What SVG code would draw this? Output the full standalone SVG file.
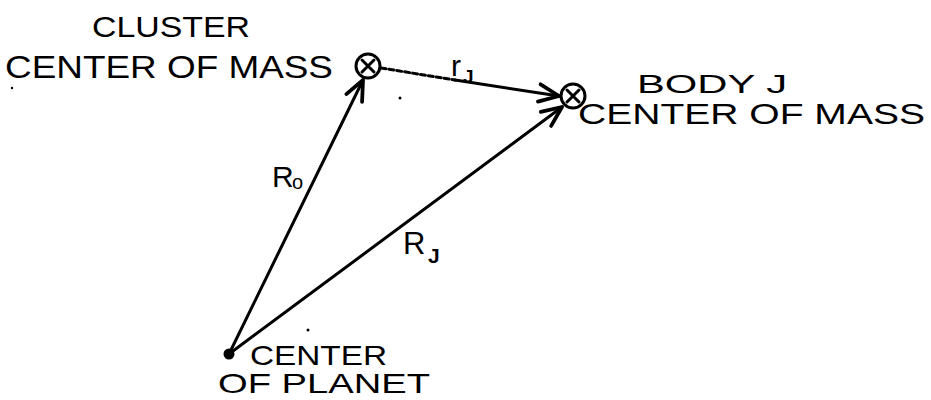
<svg xmlns="http://www.w3.org/2000/svg" width="931" height="400" viewBox="0 0 931 400">
<style>
.t{font-family:"Liberation Sans",Arial,sans-serif;fill:#000;}
.ln{stroke:#000;stroke-width:3;fill:none;stroke-linecap:round;}
.mk{stroke:#000;stroke-width:3;fill:none;stroke-linecap:round;stroke-linejoin:round;}
</style>
<defs>
<marker id="arr" markerUnits="userSpaceOnUse" markerWidth="30" markerHeight="30" viewBox="-20 -10 24 20" refX="0" refY="0" orient="auto">
<path class="mk" d="M-16,-7 L0,0 L-16,7"/>
</marker>
</defs>
<rect width="931" height="400" fill="#fff"/>
<g id="connectors">
<line class="ln" x1="229" y1="354" x2="363" y2="80" marker-end="url(#arr)"/>
<line class="ln" x1="229" y1="354" x2="562" y2="107" marker-end="url(#arr)"/>
<line class="ln" x1="381" y1="68" x2="455" y2="80" stroke-dasharray="5 3"/>
<line class="ln" x1="455" y1="80" x2="559" y2="96" marker-end="url(#arr)"/>
<g id="label-R0">
<text class="t" x="272" y="187" font-size="30">R</text>
<text class="t" x="292" y="189" font-size="20">o</text>
</g>
<g id="label-RJ">
<text class="t" x="403" y="254" font-size="31">R</text>
<text class="t" x="428" y="263" font-size="21" font-weight="bold">J</text>
</g>
<g id="label-rJ">
<text class="t" x="451" y="76" font-size="30">r</text>
<text class="t" x="463" y="83" font-size="19" font-weight="bold">J</text>
</g>
</g>
<g id="cluster-com">
<circle cx="368" cy="66" r="12" class="ln"/>
<path class="ln" d="M362,60 L374,72 M374,60 L362,72"/>
<text class="t" x="92" y="37" font-size="29" textLength="158" lengthAdjust="spacingAndGlyphs">CLUSTER</text>
<text class="t" x="5" y="78" font-size="31" textLength="328" lengthAdjust="spacingAndGlyphs">CENTER OF MASS</text>
</g>
<g id="body-j">
<circle cx="573" cy="96" r="12" class="ln"/>
<path class="ln" d="M567,90 L579,102 M579,90 L567,102"/>
<text class="t" x="637" y="93" font-size="25" textLength="150" lengthAdjust="spacingAndGlyphs">BODY    J</text>
<text class="t" x="578" y="124" font-size="29" textLength="347" lengthAdjust="spacingAndGlyphs">CENTER OF MASS</text>
</g>
<g id="planet">
<circle cx="229" cy="354" r="5.5" fill="#000"/>
<text class="t" x="250" y="365" font-size="28" textLength="137" lengthAdjust="spacingAndGlyphs">CENTER</text>
<text class="t" x="218" y="393" font-size="28" textLength="212" lengthAdjust="spacingAndGlyphs">OF  PLANET</text>
</g>
<g id="specks" fill="#000">
<circle cx="12" cy="88" r="1.2"/>
<circle cx="400" cy="98" r="1.5"/>
<circle cx="308" cy="330" r="1.5"/>
</g>
</svg>
